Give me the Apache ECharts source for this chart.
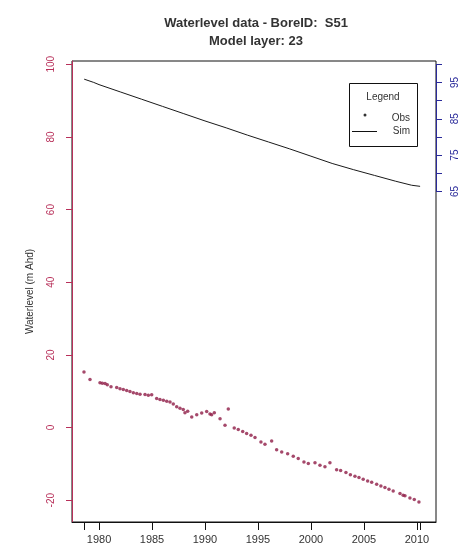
<!DOCTYPE html>
<html>
<head>
<meta charset="utf-8">
<script src="https://cdn.jsdelivr.net/npm/echarts@6/dist/echarts.min.js"></script>
<style>html,body{margin:0;padding:0;background:#fff;}#c{width:467px;height:557px;}</style>
</head>
<body>
<div id="c"></div>
<script>
// Observed water levels (m AHD)
var obsYears = [1978.58,1979.15,1980.09,1980.31,1980.57,1980.78,1981.13,1981.67,1981.98,1982.29,1982.61,1982.92,1983.24,1983.56,1983.87,1984.34,1984.65,1984.97,1985.44,1985.75,1986.07,1986.39,1986.70,1987.01,1987.33,1987.64,1987.95,1988.11,1988.37,1988.75,1989.22,1989.69,1990.16,1990.47,1990.63,1990.88,1991.42,1991.89,1992.20,1992.76,1993.14,1993.56,1993.93,1994.34,1994.72,1995.28,1995.66,1996.29,1996.76,1997.24,1997.80,1998.33,1998.80,1999.34,1999.75,2000.38,2000.85,2001.32,2001.79,2002.42,2002.80,2003.30,2003.72,2004.15,2004.53,2004.93,2005.35,2005.73,2006.20,2006.60,2006.98,2007.36,2007.76,2008.40,2008.70,2008.87,2009.34,2009.75,2010.19];
var obsLevels = [15.3,13.2,12.3,12.2,12.1,11.8,11.2,11.0,10.7,10.5,10.2,9.9,9.6,9.4,9.2,9.1,8.9,9.0,8.0,7.7,7.5,7.25,7.0,6.5,5.7,5.3,5.0,4.1,4.5,2.9,3.5,4.0,4.4,3.7,3.5,4.1,2.4,0.6,5.1,-0.1,-0.55,-1.1,-1.65,-2.1,-2.75,-4.0,-4.6,-3.7,-6.1,-6.7,-7.2,-7.9,-8.5,-9.5,-9.9,-9.7,-10.4,-10.8,-9.7,-11.6,-11.8,-12.4,-13.0,-13.4,-13.76,-14.23,-14.7,-15.05,-15.6,-16.07,-16.5,-16.97,-17.44,-18.16,-18.63,-18.8,-19.38,-19.82,-20.48];
// Simulated water levels (m AHD)
var simYears = [1978.6,1979.5,1980,1982,1984,1986,1988,1990,1992,1994,1996,1998,2000,2002,2004,2006,2008,2009.5,2010.3];
var simLevels = [95.9,95.0,94.4,92.4,90.4,88.4,86.4,84.4,82.5,80.5,78.6,76.7,74.7,72.7,71.0,69.4,67.8,66.7,66.4];
// Axis ticks
var xTickValues = [1978.58,1980,1985,1990,1995,2000,2005,2010,2010.3];
var xLabelValues = [1980,1985,1990,1995,2000,2005,2010];
var leftTicks = [-20,0,20,40,60,80,100];
var rightTicks = [65,70,75,80,85,90,95,100];
var rightLabels = [65,75,85,95];
var xMin = 1977.45, xMax = 2011.8, yMin = -26, yMax = 100.9;

var FONT = '"Liberation Sans", Arial, sans-serif';
var RED = '#b8305a', BLUE = '#2a2a9a';

var obsData = obsYears.map(function(y,i){return [y, obsLevels[i]];});
var simData = simYears.map(function(y,i){return [y, simLevels[i]];});

var chart = echarts.init(document.getElementById('c'), null, {renderer:'canvas'});
chart.setOption({
  backgroundColor: '#fff',
  animation: false,
  title: {
    text: 'Waterlevel data - BoreID:  S51\nModel layer: 23',
    left: 251, top: 9, textAlign: 'center',
    textStyle: {fontFamily: FONT, fontSize: 13, fontWeight: 'bold', color: '#333', lineHeight: 18}
  },
  grid: {left: 72, right: 31, top: 61, bottom: 35, show: true, borderColor: '#111', borderWidth: 1, backgroundColor: 'transparent'},
  xAxis: {
    type: 'value', min: xMin, max: xMax,
    splitLine: {show: false},
    axisLine: {show: true, onZero: false, lineStyle: {color: '#111', width: 1}},
    axisTick: {show: true, length: 8, lineStyle: {color: '#111'}, customValues: xTickValues},
    axisLabel: {customValues: xLabelValues, margin: 12, color: '#333', fontFamily: FONT, fontSize: 11,
      formatter: function(v){return String(Math.round(v));}}
  },
  yAxis: [{
    type: 'value', min: yMin, max: yMax, position: 'left',
    name: 'Waterlevel (m Ahd)', nameLocation: 'middle', nameGap: 37, nameRotate: 90,
    nameTextStyle: {fontFamily: FONT, fontSize: 10, color: '#333'},
    splitLine: {show: false},
    axisLine: {show: true, onZero: false, lineStyle: {color: RED, width: 1}},
    axisTick: {show: true, length: 6, lineStyle: {color: RED}, customValues: leftTicks},
    axisLabel: {customValues: leftTicks, rotate: 90, margin: 16, color: RED, fontFamily: FONT, fontSize: 10}
  }, {
    type: 'value', min: yMin, max: yMax, position: 'right',
    splitLine: {show: false},
    axisLine: {show: false, onZero: false},
    axisTick: {show: true, length: 6, lineStyle: {color: BLUE}, customValues: rightTicks},
    axisLabel: {customValues: rightLabels, rotate: 90, margin: 14, color: BLUE, fontFamily: FONT, fontSize: 10}
  }],
  series: [{
    name: 'Obs', type: 'scatter', data: obsData,
    symbol: 'circle', symbolSize: 3.5,
    itemStyle: {color: '#8e1c46'}
  }, {
    name: 'Sim', type: 'line', data: simData, showSymbol: false, smooth: false,
    lineStyle: {color: '#1a1a1a', width: 1},
    markLine: {
      silent: true, symbol: 'none', label: {show: false},
      lineStyle: {color: BLUE, width: 1, type: 'solid'},
      data: [[{coord: [xMax, rightTicks[0]]}, {coord: [xMax, rightTicks[rightTicks.length-1]]}]]
    }
  }],
  graphic: [
    {type: 'rect', shape: {x: 349.5, y: 83.5, width: 68, height: 63}, style: {fill: '#fff', stroke: '#111', lineWidth: 1}, z: 10},
    {type: 'text', x: 383, y: 97, style: {text: 'Legend', fontFamily: FONT, fontSize: 10, fill: '#333', align: 'center', verticalAlign: 'middle'}, z: 11},
    {type: 'circle', shape: {cx: 365, cy: 115, r: 1.5}, style: {fill: '#333'}, z: 11},
    {type: 'text', x: 410, y: 118, style: {text: 'Obs', fontFamily: FONT, fontSize: 10, fill: '#333', align: 'right', verticalAlign: 'middle'}, z: 11},
    {type: 'line', shape: {x1: 352, y1: 131.5, x2: 377, y2: 131.5}, style: {stroke: '#111', lineWidth: 1}, z: 11},
    {type: 'text', x: 410, y: 131, style: {text: 'Sim', fontFamily: FONT, fontSize: 10, fill: '#333', align: 'right', verticalAlign: 'middle'}, z: 11}
  ]
});
</script>
</body>
</html>
